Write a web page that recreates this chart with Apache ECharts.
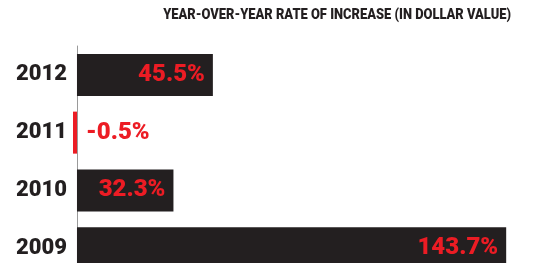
<!DOCTYPE html>
<html>
<head>
<meta charset="utf-8">
<script src="https://cdn.jsdelivr.net/npm/echarts@6/dist/echarts.min.js"></script>
<style>
    html, body { margin: 0; padding: 0; background: #fff; }
    #chart { width: 533px; height: 263px; }
</style>
</head>
<body>
<div id="chart"></div>
<script>
// data
var years = ['2009', '2010', '2011', '2012'];
var rates = [143.7, 32.3, -0.5, 45.5];
var titleText = 'YEAR-OVER-YEAR RATE OF INCREASE (IN DOLLAR VALUE)';

var dark = '#231f20',
    red = '#ec1c24';

var chart = echarts.init(document.getElementById('chart'));

var seriesData = rates.map(function (v) {
    var item = { value: v };
    if (v < 0) {
        item.itemStyle = { color: red };
        item.label = { position: 'right', distance: 9 };
    }
    return item;
});

var option = {
    animation: false,
    // condensed headline: squeeze a heavy face horizontally
    graphic: [{
        type: 'text',
        x: 511,
        y: 8,
        scaleX: 0.86,
        style: {
            x: 0,
            y: 0,
            text: titleText,
            textAlign: 'right',
            textVerticalAlign: 'top',
            font: '900 15px Roboto, sans-serif',
            fill: dark
        }
    }],
    grid: {
        left: 71,
        top: 46,
        width: 454,
        height: 231,
        outerBoundsMode: 'none'
    },
    xAxis: {
        type: 'value',
        min: -2,
        max: 150,
        show: false
    },
    yAxis: {
        type: 'category',
        data: years,
        axisLine: {
            onZero: true,
            lineStyle: { color: '#9a9a9a', width: 1 }
        },
        axisTick: { show: false },
        axisLabel: {
            margin: 4,
            fontFamily: 'Roboto, sans-serif',
            fontWeight: 900,
            fontSize: 22,
            color: dark
        }
    },
    series: [{
        type: 'bar',
        data: seriesData,
        barWidth: 42,
        barMinHeight: 4,
        itemStyle: { color: dark },
        label: {
            show: true,
            position: 'insideRight',
            distance: 8,
            fontFamily: 'Roboto, sans-serif',
            fontWeight: 900,
            fontSize: 24,
            color: red,
            formatter: function (p) {
                return p.value.toFixed(1) + '%';
            }
        }
    }]
};

chart.setOption(option);
</script>
</body>
</html>
